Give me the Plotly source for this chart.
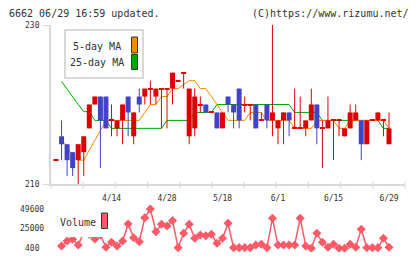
import plotly.graph_objects as go

# ---------------- data ----------------
dates = ["3/31", "4/1", "4/4", "4/5", "4/6", "4/7", "4/8", "4/11", "4/12", "4/13",
         "4/14", "4/15", "4/18", "4/19", "4/20", "4/21", "4/22", "4/25", "4/26", "4/27",
         "4/28", "5/2", "5/6", "5/9", "5/10", "5/11", "5/12", "5/13", "5/16", "5/17",
         "5/18", "5/19", "5/20", "5/23", "5/24", "5/25", "5/26", "5/27", "5/30", "5/31",
         "6/1", "6/2", "6/3", "6/6", "6/7", "6/8", "6/9", "6/10", "6/13", "6/14",
         "6/15", "6/16", "6/17", "6/20", "6/21", "6/22", "6/23", "6/24", "6/27", "6/28",
         "6/29"]
opens = [213, 216, 215, 214, 213, 214, 217, 220, 221, 221,
         218, 217, 218, 221, 216, 221, 221, 222, 221, 222,
         222, 222, 223, 224, 216, 217, 220, 220, 219, 219,
         217, 221, 220, 222, 220, 220, 220, 218, 220, 218,
         217, 218, 219, 217, 217, 217, 218, 220, 217, 217,
         218, 218, 216, 217, 218, 218, 215, 218, 218, 218,
         215]
highs = [213, 218, 215, 214, 215, 216, 220, 221, 221, 221,
         220, 218, 220, 221, 219, 222, 222, 223, 222, 222,
         222, 224, 223, 224, 222, 222, 221, 220, 219, 219,
         219, 221, 220, 222, 221, 220, 220, 219, 220, 230,
         218, 219, 219, 222, 221, 218, 222, 220, 218, 221,
         218, 218, 217, 220, 220, 218, 218, 218, 219, 218,
         219]
lows = [213, 213, 211, 211, 210, 211, 217, 220, 212, 217,
        216, 216, 215, 216, 215, 219, 220, 220, 220, 217,
        217, 220, 223, 222, 215, 216, 219, 219, 219, 217,
        217, 219, 217, 217, 219, 218, 217, 218, 217, 216,
        215, 215, 216, 217, 217, 216, 218, 215, 212, 217,
        213, 216, 216, 217, 218, 213, 215, 218, 218, 216,
        215]
closes = [213, 215, 213, 212, 215, 216, 220, 221, 218, 217,
          218, 218, 220, 219, 219, 220, 222, 222, 222, 222,
          222, 224, 223, 224, 222, 221, 220, 219, 219, 217,
          219, 220, 219, 218, 220, 220, 217, 218, 218, 219,
          218, 219, 218, 217, 217, 218, 220, 217, 217, 218,
          218, 218, 217, 219, 219, 215, 218, 218, 219, 218,
          217]
ma5 = [None, 215.5, 214.7, 213.5, 213, 213, 214.3, 215.5, 216.7, 218,
       218, 218, 218, 218, 218, 218, 219, 220, 220, 221,
       221, 222, 222, 222.5, 223, 223, 222, 222, 221, 220,
       219, 218, 218, 218, 218, 219, 219, 219, 218, 218,
       218, 218, 218, 217, 217, 217, 217, 218, 218, 218,
       218, 217, 217, 218, 218, 218, 218, 218, 218, 218,
       217]
ma25 = [None, 222.9, 221.9, 221.0, 220.0, 219.1, 219.1, 218, 218, 218,
        217, 217, 217, 217, 217, 217, 217, 217, 217, 217,
        218, 218, 218, 218, 218, 219, 219, 219, 219, 220,
        220, 220, 220, 220, 220, 220, 220, 220, 220, 220,
        220, 220, 220, 219, 219, 219, 219, 219, 218, 218,
        218, 218, 218, 218, 218, 218, 218, 218, 218, 217,
        217]
volume = [None, 3300, 9500, 11700, 4500, 20000, 18000, 12000, 17000, 1700,
          7900, 3300, 9500, 30800, 13700, 8700, 38700, 49600, 21200, 30500,
          28300, 35000, 1200, 19200, 30500, 12900, 17100, 16200, 17900, 6700,
          12900, 31700, 1200, 1200, 1200, 1200, 4500, 5400, 1200, 38000,
          4500, 4500, 4500, 4500, 38000, 3300, 400, 19200, 7900, 1700,
          5400, 400, 400, 5400, 1700, 24200, 1200, 1200, 1200, 12900,
          1700]
label_dates = ["4/14", "4/28", "5/18", "6/1", "6/15", "6/29"]
price_ticks = [230, 210]
volume_ticks = [49600, 25000, 400]

# ---------------- styling ----------------
W, H = 420, 259
L, R, T, B = 51, 15, 25, 7
PW, PH = W - L - R, H - T - B
FONT = "DejaVu Sans Mono"
RED, BLUE = "#dd0000", "#4343c6"
ORANGE, GREEN = "#f08c00", "#00a800"
VOLC = "#ff5a68"
GRAY = "#d9d9d9"
TXT = "#333333"


def px(x):
    return (x - L) / PW


def py(y):
    return (H - B - y) / PH


idx = list(range(len(dates)))
tickvals = [dates.index(d) for d in label_dates]
up = [c >= o for o, c in zip(opens, closes)]
colors = [RED if u else BLUE for u in up]
DOJI = 0.13
bases = [min(o, c) - (DOJI / 2 if o == c else 0) for o, c in zip(opens, closes)]
heights = [max(abs(c - o), DOJI) for o, c in zip(opens, closes)]

fig = go.Figure()

# moving averages (under candles)
fig.add_trace(go.Scatter(x=idx, y=ma25, mode="lines", line=dict(color=GREEN, width=1),
                         xaxis="x", yaxis="y", hoverinfo="skip"))
fig.add_trace(go.Scatter(x=idx, y=ma5, mode="lines", line=dict(color=ORANGE, width=1),
                         xaxis="x", yaxis="y", hoverinfo="skip"))

# wicks
for col, flag in ((RED, True), (BLUE, False)):
    wx, wy = [], []
    for i, u in enumerate(up):
        if u == flag:
            wx += [i, i, None]
            wy += [lows[i], highs[i], None]
    fig.add_trace(go.Scatter(x=wx, y=wy, mode="lines", line=dict(color=col, width=1),
                             xaxis="x", yaxis="y3", hoverinfo="skip"))

# bodies
fig.add_trace(go.Bar(x=idx, y=heights, base=bases, width=0.9,
                     marker=dict(color=colors, line=dict(width=0)),
                     xaxis="x", yaxis="y3", hoverinfo="skip"))

# volume
fig.add_trace(go.Scatter(x=idx, y=volume, mode="lines+markers",
                         line=dict(color=VOLC, width=1.5),
                         marker=dict(symbol="diamond", size=7, color=VOLC),
                         xaxis="x2", yaxis="y2", hoverinfo="skip"))

xr = [(L - 56) / 5.55, (W - R - 56) / 5.55]
main_dom = [py(184), 1]
vol_dom = [0, py(204)]
k = 49200 / 39.3
vr = [400 - (252 - 248.3) * k, 49600 + (209 - 204) * k]

fig.update_layout(
    width=W, height=H, margin=dict(l=L, r=R, t=T, b=B),
    paper_bgcolor="white", plot_bgcolor="white",
    showlegend=False, barmode="overlay",
    font=dict(family=FONT, color=TXT, size=8),
    xaxis=dict(range=xr, anchor="y", showline=True, linecolor=GRAY, linewidth=2,
               tickvals=tickvals, ticktext=label_dates, ticks="", showgrid=False,
               zeroline=False, tickfont=dict(size=8, family=FONT, color=TXT),
               ticklabelstandoff=5),
    xaxis2=dict(range=xr, anchor="y2", matches="x", visible=False),
    yaxis=dict(domain=main_dom, range=[210, 230], showline=True, linecolor=GRAY,
               linewidth=2, tickvals=price_ticks, ticks="outside", ticklen=6,
               tickcolor=GRAY, showticklabels=False, showgrid=False, zeroline=False),
    yaxis3=dict(domain=main_dom, range=[210, 230], overlaying="y", anchor="x",
                visible=False),
    yaxis2=dict(domain=vol_dom, range=vr, visible=False, anchor="x2"),
)

ann = []
for v in price_ticks:
    ann.append(dict(x=px(32), y=v, xref="paper", yref="y", text=str(v), showarrow=False,
                    xanchor="center", yanchor="middle", font=dict(size=8, color=TXT, family=FONT)))
for v in volume_ticks:
    ann.append(dict(x=px(32), y=v, xref="paper", yref="y2", text=str(v), showarrow=False,
                    xanchor="center", yanchor="middle", font=dict(size=8, color=TXT, family=FONT)))
ann.append(dict(x=px(7), y=py(13), xref="paper", yref="paper", text="6662 06/29 16:59 updated.",
                showarrow=False, xanchor="left", yanchor="middle",
                font=dict(size=10, color=TXT, family=FONT)))
ann.append(dict(x=px(411), y=py(13), xref="paper", yref="paper", text="(C)https://www.rizumu.net/",
                showarrow=False, xanchor="right", yanchor="middle",
                font=dict(size=10, color=TXT, family=FONT)))
ann.append(dict(x=px(97), y=py(46), xref="paper", yref="paper", text="5-day MA",
                showarrow=False, xanchor="center", yanchor="middle",
                font=dict(size=10, color=TXT, family=FONT)))
ann.append(dict(x=px(97), y=py(63), xref="paper", yref="paper", text="25-day MA",
                showarrow=False, xanchor="center", yanchor="middle",
                font=dict(size=10, color=TXT, family=FONT)))
ann.append(dict(x=px(58), y=py(222), xref="paper", yref="paper", text="Volume",
                showarrow=False, xanchor="left", yanchor="middle",
                font=dict(size=10, color=TXT, family=FONT)))

shapes = []
# x-axis tick marks crossing the axis line
for i in range(12):
    shapes.append(dict(type="line", xref="paper", yref="paper",
                       x0=i / 11, x1=i / 11, y0=py(188.5), y1=py(181.5),
                       line=dict(color=GRAY, width=1), layer="above"))
# legend boxes
shapes.append(dict(type="rect", xref="paper", yref="paper", x0=px(65), x1=px(143),
                   y0=py(78), y1=py(30), fillcolor="white", line=dict(color=GRAY, width=2),
                   layer="above"))
shapes.append(dict(type="rect", xref="paper", yref="paper", x0=px(131.5), x1=px(137.5),
                   y0=py(53), y1=py(37), fillcolor=ORANGE, line=dict(color="#333333", width=1),
                   layer="above"))
shapes.append(dict(type="rect", xref="paper", yref="paper", x0=px(131.5), x1=px(137.5),
                   y0=py(69.5), y1=py(54.5), fillcolor=GREEN, line=dict(color="#333333", width=1),
                   layer="above"))
shapes.append(dict(type="rect", xref="paper", yref="paper", x0=px(56), x1=px(110),
                   y0=py(237), y1=py(207), fillcolor="white", line=dict(width=0),
                   layer="above"))
shapes.append(dict(type="rect", xref="paper", yref="paper", x0=px(101.5), x1=px(107.5),
                   y0=py(228.5), y1=py(213), fillcolor=VOLC, line=dict(color="#333333", width=1),
                   layer="above"))

fig.update_layout(annotations=ann, shapes=shapes)
fig.write_html("out.html")
